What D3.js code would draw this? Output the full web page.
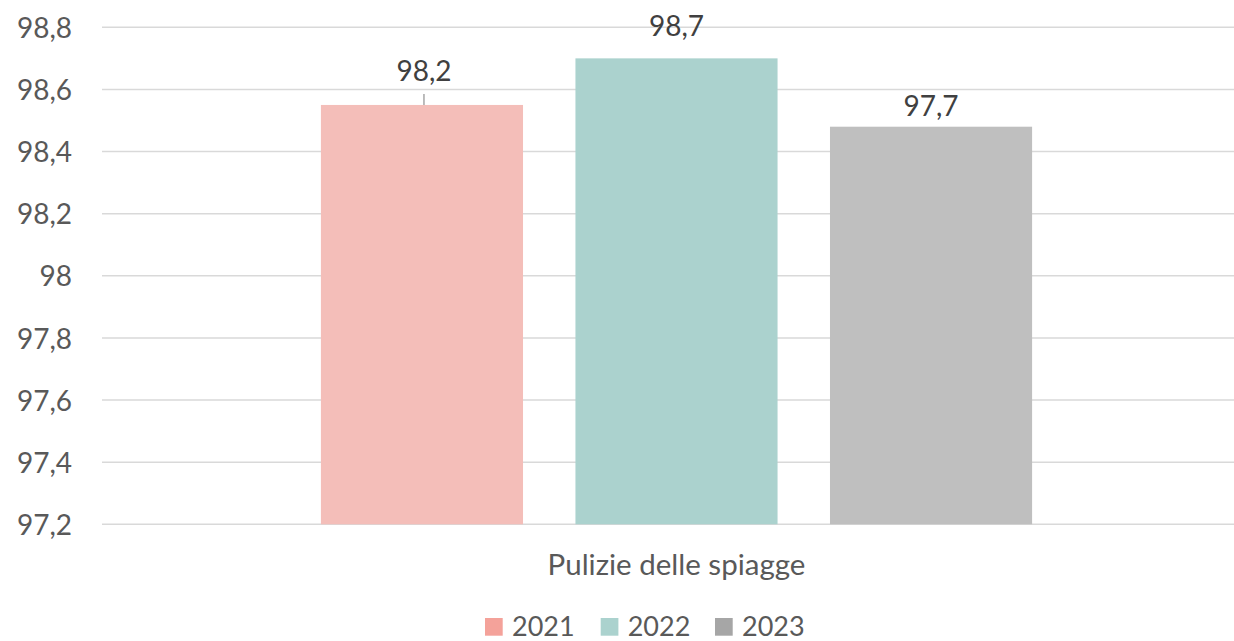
<!DOCTYPE html>
<html><head><meta charset="utf-8">
<script src="https://cdn.jsdelivr.net/npm/d3@7"></script>
<style>body{margin:0;background:#fff}svg{display:block}</style>
</head><body>
<svg id="c" width="1234" height="641"></svg>
<script>
const category = "Pulizie delle spiagge";
const years = ["2021", "2022", "2023"];
const values = [98.55, 98.70, 98.48];
const dataLabels = ["98,2", "98,7", "97,7"];
const yTicks = [97.2, 97.4, 97.6, 97.8, 98, 98.2, 98.4, 98.6, 98.8];
const barColors = ["#F4BEB9", "#ABD2CE", "#BFBFBF"];
const legendColors = ["#F4A29A", "#ABD2CE", "#A6A6A6"];

const FONT = "Lato, 'Open Sans', sans-serif";
const svg = d3.select("#c");
const pLeft = 102, pRight = 1251, pTop = 27.3, pBottom = 524.3;

const y = d3.scaleLinear().domain([97.2, 98.8]).range([pBottom, pTop]);
const x0 = d3.scaleBand().domain([category]).range([pLeft, pRight]).paddingInner(0).paddingOuter(0);
const x1 = d3.scaleBand().domain(years).range([x0(category), x0(category) + x0.bandwidth()]).paddingInner(0.206).paddingOuter(0.86);

// gridlines
svg.append("g").selectAll("line").data(yTicks).join("line")
  .attr("x1", pLeft).attr("x2", pRight)
  .attr("y1", d => y(d)).attr("y2", d => y(d))
  .attr("stroke", "#D9D9D9").attr("stroke-width", 1.5);

// y axis labels
const fmt = d => String(d).replace(".", ",");
const yAxis = d3.axisLeft(y).tickValues(yTicks).tickFormat(fmt).tickSize(0).tickPadding(0);
const ga = svg.append("g").attr("transform", `translate(72,0)`).call(yAxis);
ga.select(".domain").remove();
ga.selectAll("text").attr("font-family", FONT).attr("font-size", 28).attr("fill", "#595959").attr("dy", "0.36em");

// bars
svg.append("g").selectAll("rect").data(values).join("rect")
  .attr("x", (d, i) => x1(years[i]))
  .attr("width", x1.bandwidth())
  .attr("y", d => y(d))
  .attr("height", d => y(97.2) - y(d))
  .attr("fill", (d, i) => barColors[i]);

// data labels
const labelOffsets = [24, 22, 11];
svg.append("g").selectAll("text").data(values).join("text")
  .attr("x", (d, i) => x1(years[i]) + x1.bandwidth() / 2 + (i === 0 ? 2 : 0))
  .attr("y", (d, i) => y(d) - labelOffsets[i])
  .attr("text-anchor", "middle")
  .attr("font-family", FONT).attr("font-size", 28).attr("fill", "#404040")
  .text((d, i) => dataLabels[i]);

// leader line for first label
svg.append("line")
  .attr("x1", x1(years[0]) + x1.bandwidth() / 2 + 2).attr("x2", x1(years[0]) + x1.bandwidth() / 2 + 2)
  .attr("y1", y(values[0]) - 11).attr("y2", y(values[0]))
  .attr("stroke", "#A6A6A6").attr("stroke-width", 1.5);

// category label
svg.append("text")
  .attr("x", x0(category) + x0.bandwidth() / 2).attr("y", 575)
  .attr("text-anchor", "middle")
  .attr("font-family", FONT).attr("font-size", 29.5).attr("fill", "#595959")
  .text(category);

// legend
const legX = [485, 600.7, 715];
const lg = svg.append("g").selectAll("g").data(years).join("g")
  .attr("transform", (d, i) => `translate(${legX[i]},618)`);
lg.append("rect").attr("width", 17.7).attr("height", 17.7).attr("fill", (d, i) => legendColors[i]);
lg.append("text").attr("x", 27).attr("y", 18)
  .attr("font-family", FONT).attr("font-size", 27).attr("fill", "#595959")
  .text(d => d);
</script>
</body></html>
